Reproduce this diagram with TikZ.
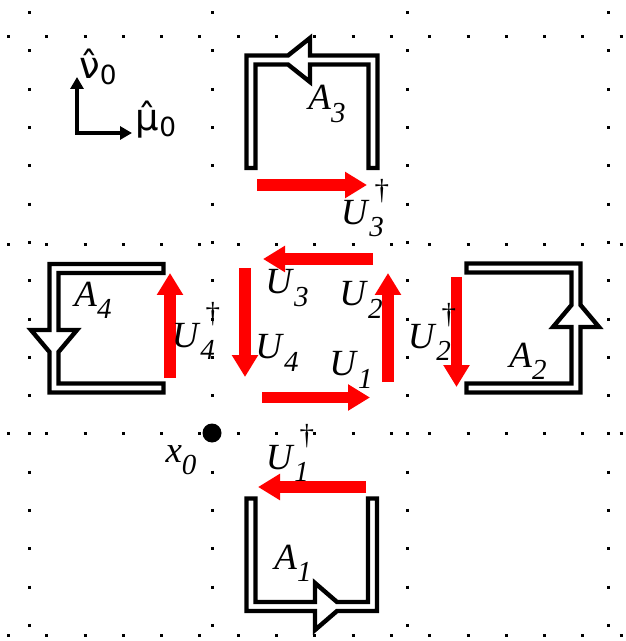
\documentclass[tikz,border=0pt]{standalone}
\usepackage{fontspec}
\setmainfont{Liberation Serif}
\newfontfamily\axisfont{DejaVu Sans}
\usetikzlibrary{arrows.meta}

\newcommand\subsz{\fontsize{16.5}{16.5}\selectfont}
\newcommand\lab[2]{\textit{#1}\raisebox{-0.33em}{\subsz\textit{#2}}}
\newcommand\labdag[2]{\textit{#1}\raisebox{-0.33em}{\subsz\textit{#2}}\kern-0.25em\raisebox{0.66em}{\subsz †}}

\begin{document}
\begin{tikzpicture}[
  x=0.02cm, y=-0.02cm,
  gridline/.style={line width=0.06cm, dash pattern=on 0.06cm off 0.706cm},
  staple/.style={draw=black, fill=white, line width=0.088cm},
  link/.style={red, line width=0.23cm, -{Triangle[length=0.44cm, width=0.5cm]}},
  axis/.style={line width=0.09cm, {Triangle[length=0.24cm, width=0.26cm]}-{Triangle[length=0.24cm, width=0.26cm]}},
  sym/.style={inner sep=0pt, font=\fontsize{21}{21}\selectfont},
  axlab/.style={inner sep=0pt, font=\axisfont\fontsize{21}{21}\selectfont}
]
\useasboundingbox (0,0) rectangle (625,641);

\foreach \y in {37,245,433,635}
  \draw[gridline] (7,\y) -- (625,\y);
\foreach \x in {29,212,407,608}
  \draw[gridline] (\x,11.2) -- (\x,641);

\coordinate (o) at (77,133);
\coordinate (nu) at (77,77);
\coordinate (mu) at (132,133);
\draw[axis] (nu) -- (o) -- (mu);
\node[axlab] (nulab) at (98,67) {ν̂\raisebox{-0.15em}{\fontsize{15}{15}\selectfont 0}};
\node[axlab] (mulab) at (156,120) {μ̂\raisebox{-0.15em}{\fontsize{15}{15}\selectfont 0}};

\draw[staple] (246.5,168) -- (246.5,55.5) -- (288,55.5) -- (310,38) -- (310,55.5) -- (377.5,55.5) -- (377.5,168) -- (368.5,168) -- (368.5,64.5) -- (310,64.5) -- (310,82) -- (288,64.5) -- (255.5,64.5) -- (255.5,168) -- cycle;
\draw[staple] (466.5,263.5) -- (580.5,263.5) -- (580.5,305) -- (599,327) -- (580.5,327) -- (580.5,392.5) -- (466.5,392.5) -- (466.5,383.5) -- (571.5,383.5) -- (571.5,327) -- (553,327) -- (571.5,305) -- (571.5,272.5) -- (466.5,272.5) -- cycle;
\draw[staple] (163.5,264) -- (49.5,264) -- (49.5,330) -- (31,330) -- (49.5,352) -- (49.5,392.5) -- (163.5,392.5) -- (163.5,383.5) -- (58.5,383.5) -- (58.5,352) -- (77,330) -- (58.5,330) -- (58.5,273) -- (163.5,273) -- cycle;
\draw[staple] (246.5,498.5) -- (246.5,611) -- (315,611) -- (315,630) -- (337,611) -- (377,611) -- (377,498.5) -- (368,498.5) -- (368,602) -- (337,602) -- (315,583) -- (315,602) -- (255.5,602) -- (255.5,498.5) -- cycle;

\draw[link] (257,185) -- (367,185);
\draw[link] (373,259) -- (263,259);
\draw[link] (245,268) -- (245,377);
\draw[link] (262,397.5) -- (370,397.5);
\draw[link] (388,382) -- (388,273);
\draw[link] (170,378) -- (170,273);
\draw[link] (456.5,277) -- (456.5,387);
\draw[link] (366,487) -- (258,487);

\fill (212,433) circle (9.5);

\node[sym] (a3) at (327,104) {\lab{A}{3}};
\node[sym] (a2) at (528,361) {\lab{A}{2}};
\node[sym] (a4) at (93,300) {\lab{A}{4}};
\node[sym] (a1) at (293,563) {\lab{A}{1}};
\node[sym] (u3d) at (365,208) {\labdag{U}{3}};
\node[sym] (u3) at (287,288) {\lab{U}{3}};
\node[sym] (u2) at (361,300) {\lab{U}{2}};
\node[sym] (u4) at (277,353) {\lab{U}{4}};
\node[sym] (u1) at (351,370) {\lab{U}{1}};
\node[sym] (u4d) at (196,331) {\labdag{U}{4}};
\node[sym] (u2d) at (432,332) {\labdag{U}{2}};
\node[sym] (u1d) at (290,453) {\labdag{U}{1}};
\node[sym] (x0) at (181,460) {\lab{x}{0}};
\end{tikzpicture}
\end{document}
